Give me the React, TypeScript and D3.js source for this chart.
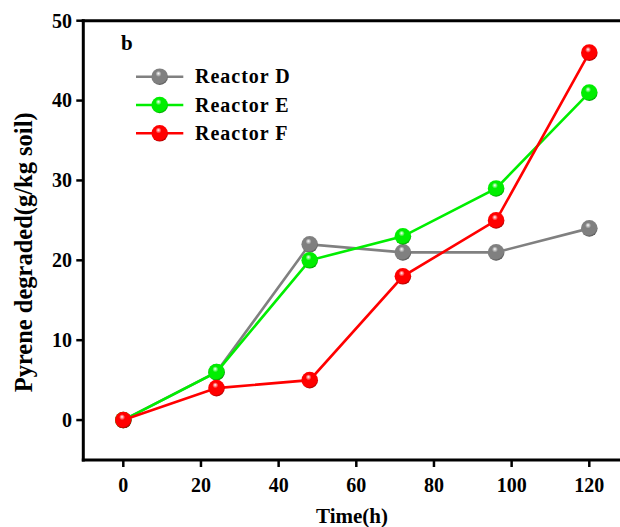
import React from "react";
import * as d3 from "d3";

const times = [0, 24, 48, 72, 96, 120];
const reactorD = [0, 6, 22, 21, 21, 24];
const reactorE = [0, 6, 20, 23, 29, 41];
const reactorF = [0, 4, 5, 18, 25, 46];
const seriesNames = ["Reactor D", "Reactor E", "Reactor F"];
const seriesColors = ["#808080", "#00ee00", "#ff0000"];
const xTicks = [0, 20, 40, 60, 80, 100, 120];
const yTicks = [0, 10, 20, 30, 40, 50];

const W = 620;
const H = 527;
const FONT = "'Liberation Serif', 'Times New Roman', serif";

export default function App() {
  const x = d3.scaleLinear().domain([0, 120]).range([123.3, 589.3]);
  const y = d3.scaleLinear().domain([-5, 50]).range([460, 20.7]);
  const axisLeft = 83.3;
  const axisBottom = y(-5);
  const axisTop = y(50);

  const seriesData = [reactorD, reactorE, reactorF];
  const line = d3
    .line<[number, number]>()
    .x((d) => x(d[0]))
    .y((d) => y(d[1]));

  const gradId = (i: number) => `ball${i}`;
  const darker = (c: string) => d3.color(c)!.darker(1.2).formatHex();
  const r = 8.3;

  return (
    <svg
      width={W}
      height={H}
      style={{ position: "absolute", left: 0, top: 0, background: "#fff" }}
      fontFamily={FONT}
      fontWeight="bold"
    >
      <defs>
        {seriesColors.map((c, i) => (
          <radialGradient key={i} id={gradId(i)} cx="0.45" cy="0.4" r="0.6" fx="0.42" fy="0.3">
            <stop offset="0" stopColor="#ffffff" />
            <stop offset="0.3" stopColor={c} />
            <stop offset="0.85" stopColor={c} />
            <stop offset="1" stopColor={darker(c)} />
          </radialGradient>
        ))}
      </defs>
      <rect x={0} y={0} width={W} height={H} fill="#fff" />

      {/* series */}
      {seriesData.map((vals, i) => {
        const pts = times.map((t, k) => [t, vals[k]] as [number, number]);
        return (
          <g key={i}>
            <path d={line(pts) || ""} fill="none" stroke={seriesColors[i]} strokeWidth={2.6} />
            {pts.map((p, k) => (
              <circle key={k} cx={x(p[0])} cy={y(p[1])} r={r} fill={`url(#${gradId(i)})`} />
            ))}
          </g>
        );
      })}

      {/* axes frame */}
      <line x1={axisLeft} x2={axisLeft} y1={axisTop - 1.5} y2={axisBottom + 1.5} stroke="#000" strokeWidth={3} />
      <line x1={axisLeft - 1.5} x2={W + 10} y1={axisBottom} y2={axisBottom} stroke="#000" strokeWidth={3} />
      <line x1={axisLeft - 1.5} x2={W + 10} y1={axisTop} y2={axisTop} stroke="#000" strokeWidth={3} />

      {/* y ticks */}
      {yTicks.map((t) => (
        <g key={t}>
          <line x1={axisLeft - 7} x2={axisLeft} y1={y(t)} y2={y(t)} stroke="#000" strokeWidth={2.5} />
          <text x={72} y={y(t)} dy="0.34em" textAnchor="end" fontSize={20} fill="#000">
            {t}
          </text>
        </g>
      ))}

      {/* x ticks */}
      {xTicks.map((t) => (
        <g key={t}>
          <line x1={x(t)} x2={x(t)} y1={axisBottom} y2={axisBottom + 7} stroke="#000" strokeWidth={2.5} />
          <text x={x(t)} y={492} textAnchor="middle" fontSize={20} fill="#000">
            {t}
          </text>
        </g>
      ))}

      {/* axis titles */}
      <text x={352} y={523} textAnchor="middle" fontSize={21} fill="#000">
        Time(h)
      </text>
      <text
        transform={`translate(32, ${(axisTop + axisBottom) / 2 + 12}) rotate(-90)`}
        textAnchor="middle"
        fontSize={24.5}
        fill="#000"
      >
        Pyrene degraded(g/kg soil)
      </text>

      {/* panel label */}
      <text x={121} y={50} fontSize={21} fill="#000">
        b
      </text>

      {/* legend */}
      {seriesNames.map((name, i) => {
        const ly = 76.7 + i * 28.3;
        return (
          <g key={name}>
            <line x1={136} x2={183.3} y1={ly} y2={ly} stroke={seriesColors[i]} strokeWidth={2.6} />
            <circle cx={159.7} cy={ly} r={r} fill={`url(#${gradId(i)})`} />
            <text x={195} y={ly + 6.7} fontSize={20} letterSpacing={1} fill="#000">
              {name}
            </text>
          </g>
        );
      })}
    </svg>
  );
}
